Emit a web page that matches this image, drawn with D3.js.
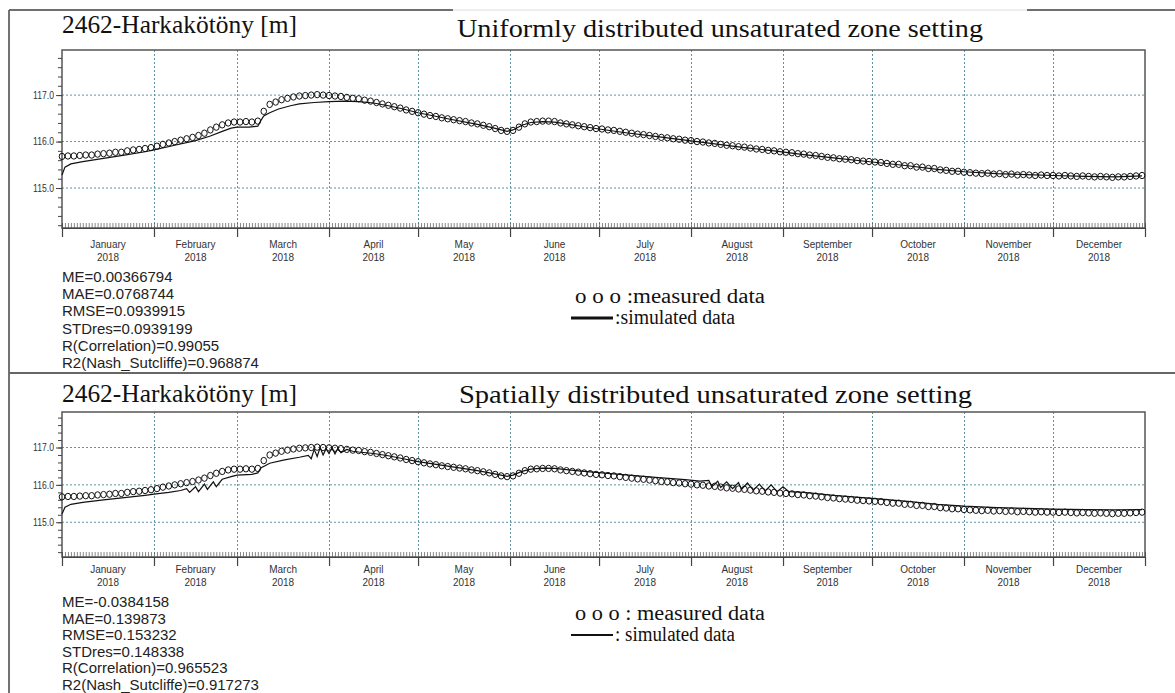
<!DOCTYPE html>
<html>
<head>
<meta charset="utf-8">
<script src="https://cdn.jsdelivr.net/npm/d3@7"></script>
<style>
  body { margin: 0; background: #fff; }
  svg { display: block; }
</style>
</head>
<body>
<div id="chart"></div>
<script>
const width = 1175;
const height = 693;

// ---- data ----
const months = ["January", "February", "March", "April", "May", "June", "July",
  "August", "September", "October", "November", "December"];
const year = "2018";
const yTicks = [115, 116, 117];

// measured heads, one reading every 2nd day from 1 Jan 2018
const measured = [
  115.68, 115.69, 115.69, 115.70, 115.71, 115.71, 115.73, 115.74, 115.75, 115.77, 115.77, 115.80, 115.82, 115.83, 115.85, 115.87,
  115.90, 115.94, 115.97, 116.00, 116.03, 116.06, 116.09, 116.13, 116.18, 116.25, 116.31, 116.36, 116.40, 116.42,
  116.42, 116.43, 116.42, 116.44, 116.65, 116.80, 116.85, 116.90, 116.93, 116.96, 116.98, 116.99, 117.00, 117.01, 117.00,
  116.99, 116.98, 116.97, 116.95, 116.93, 116.92, 116.89, 116.87, 116.84, 116.81, 116.78, 116.75, 116.72, 116.68, 116.65,
  116.62, 116.59, 116.56, 116.54, 116.51, 116.49, 116.47, 116.45, 116.43, 116.40, 116.38, 116.35, 116.32, 116.28, 116.24, 116.22,
  116.24, 116.31, 116.38, 116.42, 116.43, 116.44, 116.44, 116.43, 116.40, 116.38, 116.36, 116.34, 116.32, 116.30, 116.28,
  116.27, 116.25, 116.24, 116.22, 116.20, 116.18, 116.16, 116.15, 116.13, 116.11, 116.09, 116.08, 116.06, 116.05, 116.03,
  116.02, 116.00, 115.99, 115.97, 115.96, 115.94, 115.92, 115.91, 115.89, 115.88, 115.86, 115.84, 115.83, 115.81, 115.80, 115.78,
  115.77, 115.76, 115.74, 115.73, 115.71, 115.70, 115.68, 115.66, 115.65, 115.63, 115.62, 115.61, 115.59, 115.58, 115.57,
  115.56, 115.55, 115.53, 115.51, 115.51, 115.48, 115.48, 115.45, 115.45, 115.42, 115.42, 115.39, 115.38, 115.36, 115.36,
  115.34, 115.33, 115.32, 115.31, 115.32, 115.30, 115.31, 115.29, 115.30, 115.28, 115.29, 115.28, 115.27, 115.28, 115.27,
  115.27, 115.26, 115.27, 115.26, 115.25, 115.26, 115.25, 115.24, 115.25, 115.24, 115.23, 115.24, 115.24, 115.25, 115.26, 115.27
];

// simulated heads [day of year, value]
const simUniform = [
  [0, 115.28], [1, 115.45], [3, 115.52], [7, 115.57], [14, 115.64], [21, 115.71], [28, 115.78], [31, 115.82],
  [38, 115.92], [45, 116.02], [50, 116.12], [54, 116.22], [57, 116.29], [59, 116.31], [63, 116.31], [66, 116.33],
  [67, 116.45], [68, 116.55], [70, 116.62], [73, 116.70], [77, 116.77], [80, 116.81], [85, 116.84], [90, 116.86],
  [95, 116.87], [100, 116.86], [105, 116.83], [110, 116.77], [115, 116.70], [120, 116.62], [130, 116.49], [140, 116.37],
  [145, 116.30], [150, 116.22], [152, 116.25], [155, 116.35], [158, 116.41], [162, 116.43], [166, 116.42], [170, 116.38],
  [175, 116.33], [181, 116.27], [190, 116.19], [200, 116.11], [210, 116.03], [220, 115.95], [230, 115.87], [240, 115.80],
  [250, 115.72], [260, 115.65], [273, 115.56], [285, 115.48], [295, 115.40], [304, 115.35], [315, 115.31], [325, 115.29],
  [334, 115.27], [345, 115.25], [355, 115.24], [364, 115.26]
];
const simSpatial = [
  [0, 115.22], [1, 115.40], [3, 115.48], [7, 115.53], [14, 115.60], [21, 115.66], [28, 115.72], [31, 115.75],
  [36, 115.80], [40, 115.85], [42, 115.90], [43, 115.80], [45, 115.95], [46, 115.82], [48, 116.02], [49, 115.88],
  [51, 116.08], [52, 115.95], [54, 116.15], [57, 116.22], [59, 116.26], [64, 116.28], [66, 116.32], [67, 116.45],
  [70, 116.58], [75, 116.67], [80, 116.74], [83, 116.79], [84, 116.70], [85, 116.95], [86, 116.76], [87, 117.00],
  [88, 116.80], [89, 116.97], [90, 116.84], [91, 117.00], [92, 116.83], [93, 116.98], [94, 116.86], [96, 116.95],
  [98, 116.90], [100, 116.88], [105, 116.84], [110, 116.78], [115, 116.70], [120, 116.62], [130, 116.50], [140, 116.38],
  [145, 116.31], [150, 116.23], [152, 116.26], [155, 116.36], [158, 116.42], [162, 116.45], [166, 116.44], [170, 116.41],
  [175, 116.37], [181, 116.33], [190, 116.27], [200, 116.20], [210, 116.14], [215, 116.10], [218, 116.12], [219, 115.95],
  [221, 116.10], [222, 115.93], [224, 116.08], [226, 115.90], [228, 116.06], [229, 115.88], [231, 116.05], [233, 115.86],
  [235, 116.02], [237, 115.84], [239, 116.00], [241, 115.82], [243, 115.95], [245, 115.82], [250, 115.80], [260, 115.72],
  [273, 115.64], [285, 115.56], [295, 115.48], [304, 115.43], [315, 115.39], [325, 115.37], [334, 115.35], [345, 115.34],
  [355, 115.33], [364, 115.34]
];

const statsUniform = ["ME=0.00366794", "MAE=0.0768744", "RMSE=0.0939915", "STDres=0.0939199",
  "R(Correlation)=0.99055", "R2(Nash_Sutcliffe)=0.968874"];
const statsSpatial = ["ME=-0.0384158", "MAE=0.139873", "RMSE=0.153232", "STDres=0.148338",
  "R(Correlation)=0.965523", "R2(Nash_Sutcliffe)=0.917273"];

const wellName = "2462-Harkakötöny [m]";
const titleUniform = "Uniformly distributed unsaturated zone setting";
const titleSpatial = "Spatially distributed unsaturated zone setting";

// ---- layout ----
const start = new Date(Date.UTC(2018, 0, 1));
const end = new Date(Date.UTC(2019, 0, 1));
const dayDate = d => d3.utcDay.offset(start, d);

const x = d3.scaleUtc().domain([start, end]).range([62, 1145]);

const panels = [
  { top: 50, bottom: 228, domain: [114.14, 117.97], nameY: 33, titleY: 37, titleX: 457, titleW: 526,
    title: titleUniform, sim: simUniform, stats: statsUniform, labelY: 248, statsY: 282, statsStep: 17.2,
    legendY: 303, legendLineW: 3, measTxt: "o o o :measured data", simTxt: ":simulated data" },
  { top: 412, bottom: 557, domain: [114.07, 117.95], nameY: 402, titleY: 403, titleX: 459, titleW: 513,
    title: titleSpatial, sim: simSpatial, stats: statsSpatial, labelY: 573, statsY: 607, statsStep: 16.6,
    legendY: 620, legendLineW: 2, measTxt: "o o o : measured data", simTxt: ": simulated data" }
];

const svg = d3.select("#chart").append("svg")
  .attr("width", width)
  .attr("height", height);

// outer frame pieces
svg.append("line").attr("x1", 9).attr("x2", 9).attr("y1", 10).attr("y2", height)
  .attr("stroke", "#444").attr("stroke-width", 1.5);
svg.append("line").attr("x1", 9).attr("x2", 1175).attr("y1", 10).attr("y2", 10)
  .attr("stroke", "#ddd").attr("stroke-width", 1);
svg.append("line").attr("x1", 9).attr("x2", 453).attr("y1", 10).attr("y2", 10)
  .attr("stroke", "#444").attr("stroke-width", 1.5);
svg.append("line").attr("x1", 1027).attr("x2", 1175).attr("y1", 10).attr("y2", 10)
  .attr("stroke", "#444").attr("stroke-width", 1.5);
svg.append("line").attr("x1", 9).attr("x2", 1175).attr("y1", 373).attr("y2", 373)
  .attr("stroke", "#666").attr("stroke-width", 2);

const gridColor = "#5d93a3";
const sans = "'Liberation Sans', Arial, sans-serif";
const serif = "'Liberation Serif', 'Times New Roman', serif";

panels.forEach(p => {
  const y = d3.scaleLinear().domain(p.domain).range([p.bottom, p.top]);
  const g = svg.append("g");

  // titles
  g.append("text")
    .attr("x", 62).attr("y", p.nameY)
    .attr("textLength", 235).attr("lengthAdjust", "spacingAndGlyphs")
    .style("font-family", serif).style("font-size", "25px").style("fill", "#111")
    .text(wellName);
  g.append("text")
    .attr("x", p.titleX).attr("y", p.titleY)
    .attr("textLength", p.titleW).attr("lengthAdjust", "spacingAndGlyphs")
    .style("font-family", serif).style("font-size", "25px").style("fill", "#111")
    .text(p.title);

  // grid
  g.append("g").selectAll("line")
    .data(yTicks).join("line")
    .attr("x1", x.range()[0]).attr("x2", x.range()[1])
    .attr("y1", d => y(d)).attr("y2", d => y(d))
    .attr("stroke", gridColor).attr("stroke-width", 1).attr("stroke-dasharray", "2,2");
  g.append("g").selectAll("line")
    .data(d3.utcMonth.range(d3.utcMonth.offset(start, 1), end)).join("line")
    .attr("x1", d => Math.round(x(d)) + 0.5).attr("x2", d => Math.round(x(d)) + 0.5)
    .attr("y1", p.top).attr("y2", p.bottom)
    .attr("stroke", gridColor).attr("stroke-width", 1).attr("stroke-dasharray", "2,2");

  // frame
  g.append("rect")
    .attr("x", x.range()[0]).attr("y", p.top)
    .attr("width", x.range()[1] - x.range()[0]).attr("height", p.bottom - p.top)
    .attr("fill", "none").attr("stroke", "#555").attr("stroke-width", 1.5);

  // y axis: minor + major ticks
  const minor = d3.range(Math.ceil(p.domain[0] * 5), Math.floor(p.domain[1] * 5) + 1).map(v => v / 5);
  g.append("g")
    .attr("transform", `translate(${x.range()[0]},0)`)
    .call(d3.axisLeft(y).tickValues(minor).tickSize(4).tickFormat(""))
    .call(a => a.select(".domain").remove())
    .call(a => a.selectAll("line").attr("stroke", "#444"));
  const ya = g.append("g")
    .attr("transform", `translate(${x.range()[0]},0)`)
    .call(d3.axisLeft(y).tickValues(yTicks).tickSize(6).tickPadding(3).tickFormat(d3.format(".1f")))
    .call(a => a.select(".domain").remove());
  ya.selectAll("line").attr("stroke", "#444");
  ya.selectAll("text")
    .style("font-family", sans).style("font-size", "10.5px").style("fill", "#333")
    .attr("transform", "scale(0.82,1)")
    .attr("x", -8 / 0.82);

  // x axis: daily ruler ticks inside, month ticks outside
  g.append("g")
    .attr("transform", `translate(0,${p.bottom})`)
    .call(d3.axisBottom(x).ticks(d3.utcDay.every(1)).tickSize(-5).tickFormat(""))
    .call(a => a.select(".domain").attr("stroke", "#444"))
    .call(a => a.selectAll("line").attr("stroke", "#555").attr("stroke-width", 0.7));
  g.append("g")
    .attr("transform", `translate(0,${p.bottom})`)
    .call(d3.axisBottom(x).ticks(d3.utcMonth.every(1)).tickSize(9).tickFormat(""))
    .call(a => a.select(".domain").remove())
    .call(a => a.selectAll("line").attr("stroke", "#444").attr("stroke-width", 1.2));

  const mids = d3.utcMonth.range(start, end).map((d, i) => ({
    name: months[i],
    cx: (x(d) + x(d3.utcMonth.offset(d, 1))) / 2
  }));
  const lbl = g.append("g").selectAll("g").data(mids).join("g")
    .attr("transform", d => `translate(${d.cx},${p.labelY}) scale(0.87,1)`);
  lbl.append("text").attr("text-anchor", "middle")
    .style("font-family", sans).style("font-size", "11.5px").style("fill", "#333")
    .text(d => d.name);
  lbl.append("text").attr("text-anchor", "middle").attr("y", 13)
    .style("font-family", sans).style("font-size", "11.5px").style("fill", "#333")
    .text(year);

  // simulated line
  const line = d3.line().x(d => x(dayDate(d[0]))).y(d => y(d[1]));
  g.append("path")
    .datum(p.sim)
    .attr("d", line)
    .attr("fill", "none").attr("stroke", "#111").attr("stroke-width", 1.2);

  // measured circles
  g.append("g").selectAll("ellipse")
    .data(measured).join("ellipse")
    .attr("cx", (d, i) => x(dayDate(i * 2)))
    .attr("cy", d => y(d))
    .attr("rx", 2.8).attr("ry", 3.2)
    .attr("fill", "none").attr("stroke", "#111").attr("stroke-width", 1);

  // stats
  g.append("g").selectAll("text")
    .data(p.stats).join("text")
    .attr("x", 62)
    .attr("y", (d, i) => p.statsY + i * p.statsStep)
    .style("font-family", sans).style("font-size", "15px").style("fill", "#222")
    .text(d => d);

  // legend
  const lg = g.append("g");
  lg.append("text")
    .attr("x", 575).attr("y", p.legendY)
    .attr("textLength", 190).attr("lengthAdjust", "spacingAndGlyphs")
    .style("font-family", serif).style("font-size", "20px").style("fill", "#111")
    .text(p.measTxt);
  lg.append("line")
    .attr("x1", 571).attr("x2", 613)
    .attr("y1", p.legendY + 15).attr("y2", p.legendY + 15)
    .attr("stroke", "#111").attr("stroke-width", p.legendLineW);
  lg.append("text")
    .attr("x", 615).attr("y", p.legendY + 21)
    .attr("textLength", 120).attr("lengthAdjust", "spacingAndGlyphs")
    .style("font-family", serif).style("font-size", "20px").style("fill", "#111")
    .text(p.simTxt);
});
</script>
</body>
</html>
